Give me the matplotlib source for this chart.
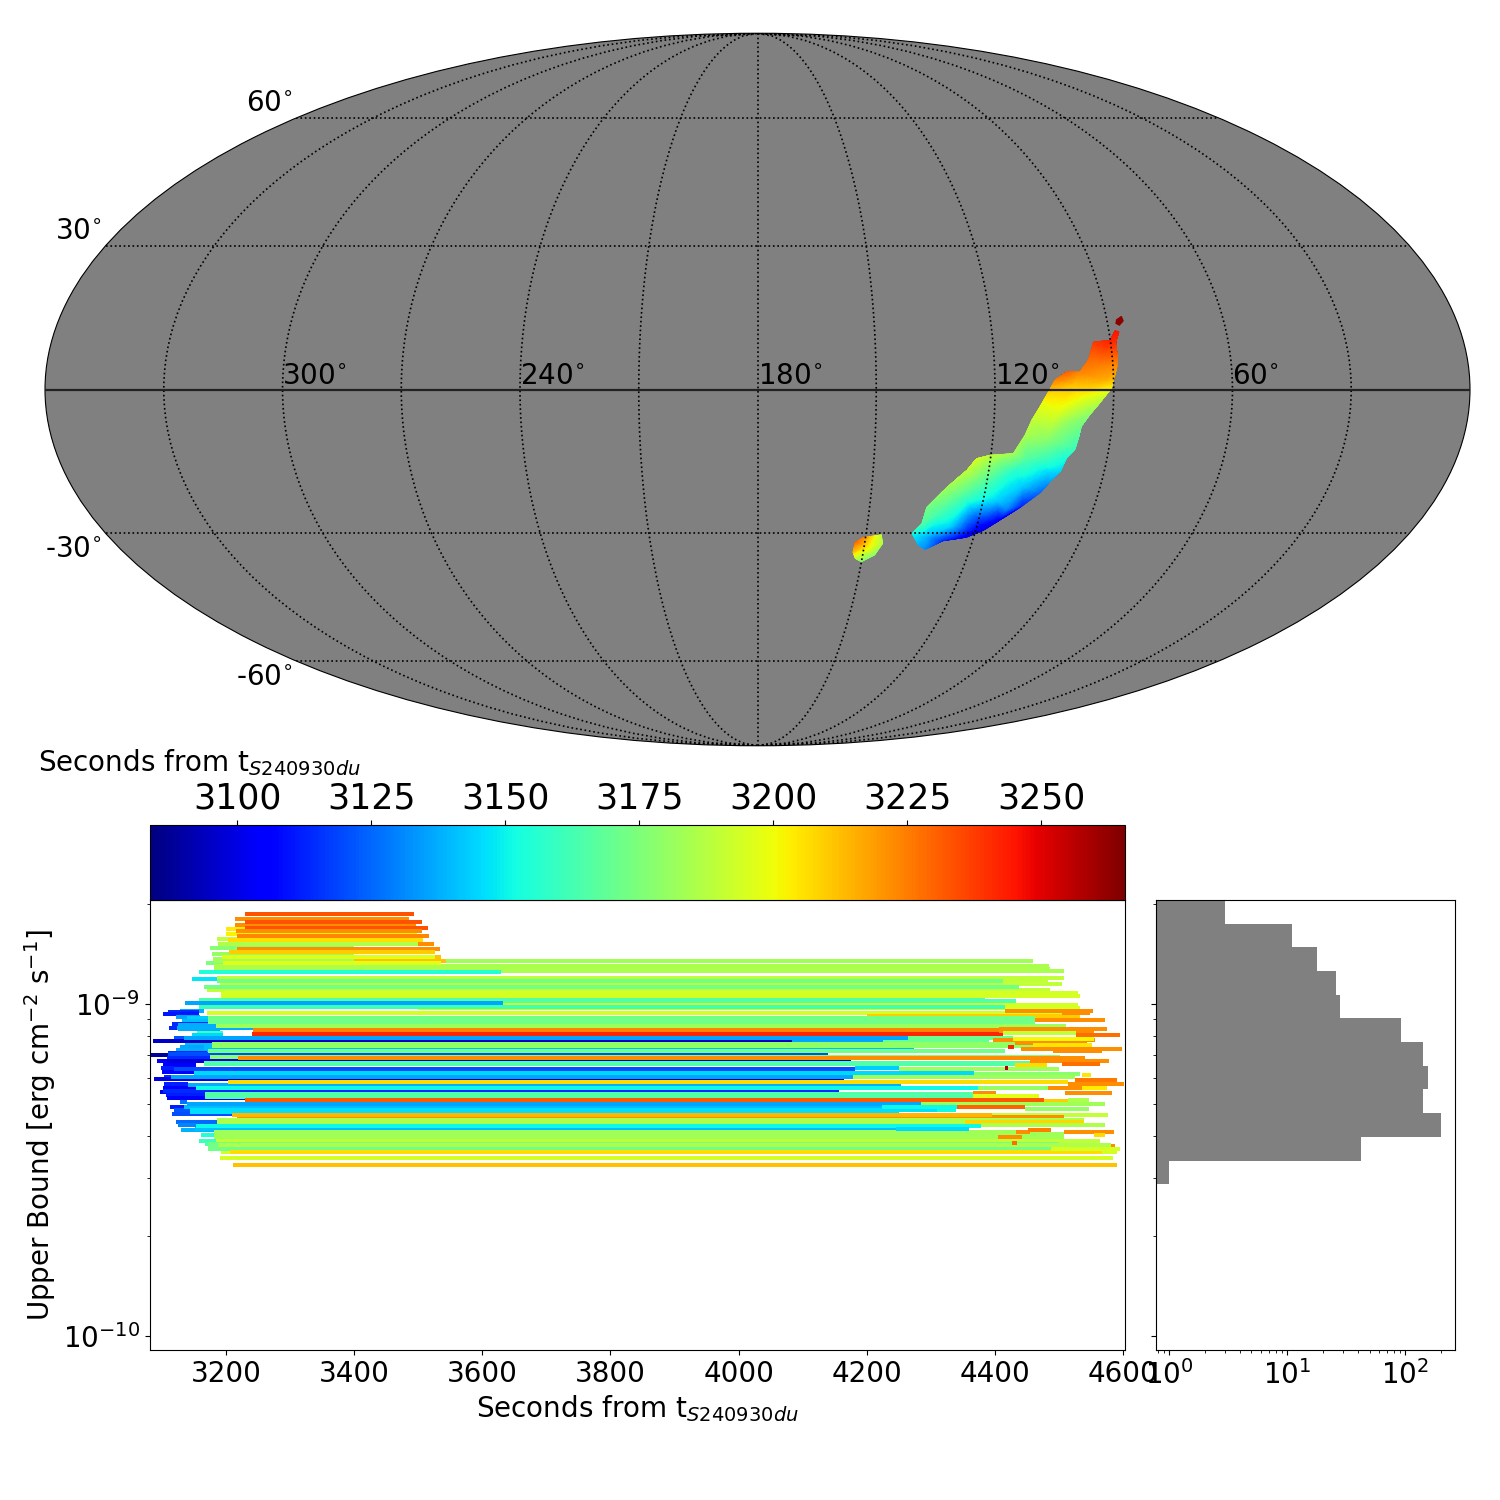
import matplotlib
matplotlib.use("Agg")
import matplotlib.pyplot as plt
import numpy as np
from matplotlib.colors import Normalize
from matplotlib.cm import ScalarMappable
from matplotlib.patches import Polygon
from matplotlib.ticker import NullFormatter
from matplotlib.tri import LinearTriInterpolator, Triangulation, UniformTriRefiner

# sky localisation, main lobe: outline then inner points
main_ra = [88.4, 87.4, 88.6, 88.65, 88.9, 89.95, 90.5, 92.2, 93.8, 95.8, 97.7, 98.0, 98.6, 100.4, 101.3,
           103.5, 105.4, 109.3, 114.2, 117.9, 121.9, 128.2, 132.65, 134.9, 137.4, 135.25, 134.75, 131.8,
           128.4, 125.7, 123.6, 120.3, 114.35, 111.9, 110.5, 108.6, 107.0, 104.85, 101.8, 98.5, 96.2, 94.4, 90.1]
main_dec = [12.2, 11.87, 9.81, 7.4, 4.67, 1.94, 0.24, -1.47, -3.17, -5.22, -7.61, -9.67, -12.43, -14.15, -16.93,
            -19.03, -21.48, -24.3, -27.16, -29.46, -30.9, -31.65, -33.55, -32.6, -30.05, -27.88, -24.3, -21.48,
            -18.67, -16.58, -14.15, -13.46, -13.1, -9.33, -6.25, -3.51, -1.13, 1.94, 3.65, 3.65, 6.04, 9.81, 10.15]
main_t = [3245, 3245, 3240, 3232, 3222, 3212, 3202, 3192, 3186, 3178, 3172, 3167, 3160, 3153, 3145,
          3136, 3125, 3112, 3104, 3097, 3100, 3114, 3132, 3138, 3152, 3166, 3174, 3180,
          3186, 3190, 3194, 3189, 3183, 3185, 3190, 3197, 3206, 3224, 3231, 3224, 3228, 3238, 3243]
inner_ra = [94.1, 92.6, 100.2, 98.5, 104.3, 101.55, 106.2, 107.4, 104.85, 113.5, 118.4, 120.7, 116.45, 113.1,
            130.9, 127.3, 122.0, 133.1, 124.4, 127.4, 110.2, 110.65]
inner_dec = [5.35, 1.94, 0.92, -1.47, -4.88, -6.92, -10.34, -13.74, -17.2, -17.2, -14.5, -20.0, -22.9, -25.0,
             -25.7, -28.5, -29.6, -30.6, -22.9, -21.48, -20.0, -14.5]
inner_t = [3226, 3216, 3212, 3201, 3196, 3180, 3178, 3165, 3145, 3155, 3180, 3163, 3145, 3130,
           3163, 3145, 3112, 3140, 3158, 3172, 3143, 3165]

# small lobe near 150 deg
small_ra = [152.8, 150.65, 145.7, 144.8, 146.5, 150.0, 152.0, 153.0]
small_dec = [-31.85, -30.8, -30.2, -32.2, -34.8, -36.3, -35.55, -34.1]
small_t = [3230, 3225, 3190, 3186, 3178, 3175, 3190, 3212]
small_inner_ra = [149.3]
small_inner_dec = [-32.95]
small_inner_t = [3206]

# late speck at the top of the main lobe
speck_ra = [87.5, 86.1, 85.9, 87.05, 87.8]
speck_dec = [14.3, 15.0, 14.1, 13.25, 13.6]
speck_t = 3263

# limit bars that stick out on the early side
left_logub = [-9.021, -9.025, -9.030, -9.039, -9.043, -9.051, -9.060, -9.063, -9.072, -9.076, -9.087, -9.093,
              -9.103, -9.121, -9.131, -9.139, -9.147, -9.155, -9.159, -9.163, -9.173, -9.183, -9.193, -9.205,
              -9.219, -9.241, -9.252, -9.264, -9.274, -9.284, -9.296, -9.309, -9.319, -9.331, -9.354, -9.364,
              -9.381, -9.396, -9.412, -9.422, -9.432, -9.447, -8.876]
left_start = [3128, 3110, 3102, 3122, 3139, 3131, 3116, 3125, 3111, 3125, 3155, 3147,
              3119, 3136, 3128, 3122, 3110, 3082, 3113, 3108, 3092, 3102, 3099, 3100,
              3103, 3103, 3102, 3097, 3107, 3108, 3128, 3113, 3119, 3116, 3122, 3125,
              3130, 3161, 3158, 3167, 3172, 3192, 3169]
left_stop = [3165, 3158, 3158, 3160, 3172, 3172, 3185, 3185, 3160, 3190, 3195, 3195,
             3135, 3178, 3165, 3172, 3170, 3113, 3175, 3219, 3165, 3154, 3119, 3150,
             3114, 3141, 3153, 3167, 3167, 3230, 3139, 3135, 3144, 3209, 3186, 3153,
             3181, 3181, 3185, 3187, 3188, 3206, 3195]
left_t = [3137, 3114, 3110, 3136, 3143, 3140, 3114, 3137, 3114, 3137, 3161, 3145,
          3122, 3140, 3136, 3137, 3114, 3088, 3130, 3114, 3103, 3105, 3112, 3105,
          3114, 3112, 3105, 3100, 3112, 3105, 3127, 3112, 3122, 3120, 3125, 3130,
          3138, 3155, 3161, 3165, 3172, 3194, 3175]

# the long bars
long_logub = [-8.872, -8.887, -8.895, -8.901, -8.905, -8.924, -8.921, -8.927, -8.939, -8.931, -8.957, -8.949, -8.967, -8.976,
              -8.988, -9.003, -8.997, -8.992, -9.011, -9.010, -9.028, -9.027, -9.037, -9.041, -9.053, -9.071,
              -9.066, -9.079, -9.089, -9.110, -9.103, -9.111, -9.111, -9.102, -9.150, -9.134, -9.120, -9.126,
              -9.141, -9.159, -9.171, -9.164, -9.177, -9.182, -9.195, -9.207, -9.226, -9.220, -9.243, -9.235,
              -9.262, -9.252, -9.271, -9.280, -9.290, -9.310, -9.302, -9.320, -9.324, -9.333, -9.340, -9.334,
              -9.349, -9.355, -9.376, -9.367, -9.385, -9.391, -9.401, -9.413, -9.422, -9.436, -9.426, -9.446,
              -9.463, -9.485]
long_start = [3181, 3181, 3181, 3184, 3158, 3147, 3186, 3186, 3190, 3186, 3170, 3165, 3192, 3192,
              3158, 3194, 3136, 3632, 3500, 3158, 3180, 3170, 4200, 3172, 3172, 3124,
              3185, 3243, 3241, 3178, 3178, 3135, 3086, 3135, 3110, 3165, 3178, 3178,
              3172, 3175, 3108, 3219, 3165, 3165, 3119, 3150, 3088, 3114, 3141, 3203,
              3102, 3153, 3167, 3167, 3230, 3135, 3139, 3144, 3144, 4396, 3217, 3209,
              3186, 3186, 3152, 3153, 3181, 3181, 3181, 3185, 3172, 3172, 3187, 3206,
              3191, 3211]
long_stop = [4460, 4485, 4486, 4508, 3630, 3632, 4508, 4483, 4505, 4412, 4486, 4438, 4530, 4532,
             4385, 4529, 3632, 4433, 4533, 4415, 4235, 4504, 4533, 4463, 4463, 3598,
             4511, 4407, 4413, 4390, 4429, 4226, 4084, 4265, 4139, 4273, 4460, 4460,
             4415, 4502, 4176, 4541, 4454, 4454, 4181, 4368, 4165, 4179, 4254, 4514,
             4157, 4374, 4366, 4366, 4477, 4224, 4284, 4310, 4250, 4577, 4508, 4396,
             4539, 4354, 4245, 4379, 4433, 4508, 4508, 4564, 4500, 4488, 4581, 4567,
             4585, 4591]
long_t = [3183, 3185, 3185, 3185, 3155, 3147, 3189, 3189, 3190, 3172, 3190, 3172, 3194, 3194,
          3165, 3194, 3136, 3165, 3194, 3161, 3163, 3194, 3210, 3172, 3172, 3137,
          3182, 3224, 3242, 3170, 3170, 3136, 3095, 3136, 3120, 3140, 3179, 3179,
          3172, 3177, 3098, 3222, 3165, 3165, 3120, 3145, 3100, 3136, 3137, 3207,
          3114, 3151, 3165, 3165, 3232, 3140, 3136, 3146, 3146, 3190, 3222, 3214,
          3186, 3186, 3140, 3151, 3183, 3183, 3183, 3189, 3172, 3172, 3186, 3207,
          3194, 3212]

# the short bars at the brightest limits
top_logub = [-8.831, -8.849, -8.864, -8.804, -8.774, -8.789, -8.729, -8.744, -8.762, -8.754, -8.771, -8.780,
             -8.795, -8.807, -8.819, -8.819, -8.834, -8.843, -8.870, -8.858, -8.858, -8.876]
top_start = [3175, 3178, 3180, 3186, 3200, 3200, 3230, 3214, 3214, 3230, 3230, 3216,
             3217, 3203, 3400, 3188, 3217, 3205, 3400, 3400, 3194, 3195]
top_stop = [3400, 3400, 3400, 3400, 3400, 3498, 3493, 3486, 3497, 3506, 3515, 3506,
            3517, 3507, 3525, 3500, 3534, 3526, 3543, 3536, 3526, 3536]
top_t = [3177, 3180, 3183, 3190, 3204, 3203, 3233, 3222, 3222, 3233, 3233, 3222,
         3223, 3206, 3222, 3186, 3222, 3210, 3212, 3212, 3197, 3197]

# pieces on the late side, over the long bars
right_logub = [-9.020, -9.028, -9.048, -9.074, -9.081, -9.088, -9.093, -9.108, -9.105, -9.117, -9.124, -9.129,
               -9.135, -9.143, -9.171, -9.180, -9.183, -9.194, -9.196, -9.194, -9.210, -9.213, -9.220, -9.229,
               -9.241, -9.253, -9.253, -9.253, -9.269, -9.269, -9.278, -9.291, -9.289, -9.301, -9.309, -9.310,
               -9.320, -9.316, -9.355, -9.364, -9.376, -9.385, -9.380, -9.387, -9.395, -9.401, -9.420, -9.429,
               -9.436, -9.446]
right_start = [4415, 4504, 4463, 4407, 4407, 4413, 4527, 4397, 4429, 4432, 4460, 4421,
               4441, 4490, 4454, 4504, 4432, 4181, 4250, 4416, 4368, 4536, 4179, 4525,
               4514, 4374, 4483, 4536, 4366, 4510, 4366, 4477, 4514, 4284, 4224, 4341,
               4310, 4447, 4354, 4379, 4245, 4433, 4452, 4508, 4555, 4405, 4427, 4581,
               4488, 4567]
right_stop = [4553, 4549, 4572, 4575, 4555, 4527, 4595, 4556, 4555, 4544, 4552, 4430,
              4599, 4567, 4578, 4564, 4481, 4250, 4500, 4421, 4533, 4550, 4525, 4591,
              4602, 4483, 4536, 4575, 4402, 4583, 4469, 4514, 4547, 4572, 4341, 4447,
              4340, 4547, 4539, 4572, 4360, 4454, 4488, 4586, 4572, 4443, 4435, 4588,
              4595, 4591]
right_t = [3222, 3222, 3222, 3222, 3222, 3190, 3228, 3222, 3201, 3222, 3205, 3242,
           3222, 3222, 3222, 3228, 3207, 3143, 3183, 3258, 3177, 3205, 3183, 3226,
           3222, 3180, 3222, 3204, 3222, 3222, 3197, 3210, 3186, 3183, 3151, 3230,
           3151, 3180, 3208, 3186, 3145, 3222, 3225, 3222, 3207, 3222, 3228, 3222,
           3194, 3194]

# side histogram of the limits
hist_edges = [-8.687, -8.758, -8.829, -8.901, -8.973, -9.042, -9.114, -9.187, -9.256, -9.328, -9.401, -9.473, -9.542]
hist_counts = [3, 11, 18, 26, 28, 92, 142, 157, 142, 202, 42, 1]

ra_labels = [300, 240, 180, 120, 60]
dec_labels = [60, 30, -30, -60]
cbar_ticks = [3100, 3125, 3150, 3175, 3200, 3225, 3250]

cmap = plt.get_cmap("jet")
norm = Normalize(3083.7, 3265.6)


def to_lon(ra):
    return np.radians(180 - np.asarray(ra, dtype=float))


def paint_lobe(ax, ra, dec, t, in_ra, in_dec, in_t):
    # gouraud meshes skip the non affine part of the projection, so project first
    to_axes = ax.transAffine + ax.transAxes
    all_xy = ax.transProjection.transform(np.column_stack([to_lon(list(ra) + list(in_ra)),
                                                           np.radians(list(dec) + list(in_dec))]))
    tri = Triangulation(all_xy[:, 0], all_xy[:, 1])
    values = np.array(list(t) + list(in_t), dtype=float)
    # split the triangles so the colours run along jet and not straight through rgb
    fine_tri, fine_values = UniformTriRefiner(tri).refine_field(values, LinearTriInterpolator(tri, values), subdiv=4)
    mesh = ax.tripcolor(fine_tri, fine_values, shading="gouraud", cmap=cmap, norm=norm, zorder=1, transform=to_axes)
    clip = Polygon(all_xy[:len(ra)], closed=True, transform=to_axes)
    mesh.set_clip_path(clip)


fig = plt.figure(figsize=(15, 15), dpi=100)


def box(x0, y0, x1, y1, **kwargs):
    # pixel box from the top-left corner of the figure
    return fig.add_axes([x0 / 1500, 1 - y1 / 1500, (x1 - x0) / 1500, (y1 - y0) / 1500], **kwargs)


ax_sky = box(45, 33, 1470, 746, projection="mollweide")
ax_sky.set_facecolor("#808080")
ax_sky.set_longitude_grid(30)
ax_sky.set_latitude_grid(30)
ax_sky.set_longitude_grid_ends(90)
ax_sky.xaxis.set_major_formatter(NullFormatter())
ax_sky.yaxis.set_major_formatter(NullFormatter())
paint_lobe(ax_sky, main_ra, main_dec, main_t, inner_ra, inner_dec, inner_t)
paint_lobe(ax_sky, small_ra, small_dec, small_t, small_inner_ra, small_inner_dec, small_inner_t)
ax_sky.fill(to_lon(speck_ra), np.radians(speck_dec), color=cmap(norm(speck_t)), zorder=1)
ax_sky.plot([-np.pi, np.pi], [0, 0], color="#222222", linewidth=1.6, zorder=3)
# tripcolor switches the grid off, so it has to come after
ax_sky.set_axisbelow(False)
ax_sky.grid(True, color="black", linestyle=":", linewidth=1.2)

for ra in ra_labels:
    ax_sky.annotate(str(ra) + r"$^{\circ}$", xy=(to_lon(ra), 0), xytext=(0, 6), textcoords="offset pixels",
                    fontsize=20, ha="left", va="baseline", annotation_clip=False)
for dec in dec_labels:
    ax_sky.annotate(str(dec) + r"$^{\circ}$", xy=(-np.pi, np.radians(dec)),
                    xytext=(-4, 15 if dec > 0 else -16), textcoords="offset pixels",
                    fontsize=20, ha="right", va="center", annotation_clip=False)

ax_main = box(150, 900, 1125, 1350)
ax_main.hlines(10.0 ** np.array(left_logub), left_start, left_stop, colors=cmap(norm(left_t)),
               linewidth=2.88, capstyle="butt")
ax_main.hlines(10.0 ** np.array(long_logub), long_start, long_stop, colors=cmap(norm(long_t)),
               linewidth=2.88, capstyle="butt")
ax_main.hlines(10.0 ** np.array(top_logub), top_start, top_stop, colors=cmap(norm(top_t)),
               linewidth=2.88, capstyle="butt")
ax_main.hlines(10.0 ** np.array(right_logub), right_start, right_stop, colors=cmap(norm(right_t)),
               linewidth=2.88, capstyle="butt")
ax_main.set_yscale("log")
ax_main.set_xlim(3081.5, 4603)
ax_main.set_ylim(10 ** -10.042, 10 ** -8.687)
ax_main.set_xticks([3200, 3400, 3600, 3800, 4000, 4200, 4400, 4600])
ax_main.tick_params(labelsize=20)
ax_main.set_xlabel(r"Seconds from t$_{S240930du}$", fontsize=20)
ax_main.set_ylabel(r"Upper Bound [erg cm$^{-2}$ s$^{-1}$]", fontsize=20)

ax_cbar = box(150, 825, 1125, 900)
fig.colorbar(ScalarMappable(norm=norm, cmap=cmap), cax=ax_cbar, orientation="horizontal")
ax_cbar.xaxis.set_ticks_position("top")
ax_cbar.set_xticks(cbar_ticks)
ax_cbar.tick_params(labelsize=25)
fig.text(37.5 / 1500, 1 - 763 / 1500, r"Seconds from t$_{S240930du}$", fontsize=20, va="center", ha="left")

ax_hist = box(1156, 900, 1455, 1350)
edges = 10.0 ** np.array(hist_edges)
ax_hist.barh(edges[:-1], hist_counts, height=np.diff(edges), align="edge", color="#808080")
ax_hist.set_xscale("log")
ax_hist.set_yscale("log")
ax_hist.set_xlim(0.776, 265)
ax_hist.set_ylim(10 ** -10.042, 10 ** -8.687)
ax_hist.tick_params(labelsize=20, labelleft=False, which="both")

fig.savefig("out.png", dpi=100)
